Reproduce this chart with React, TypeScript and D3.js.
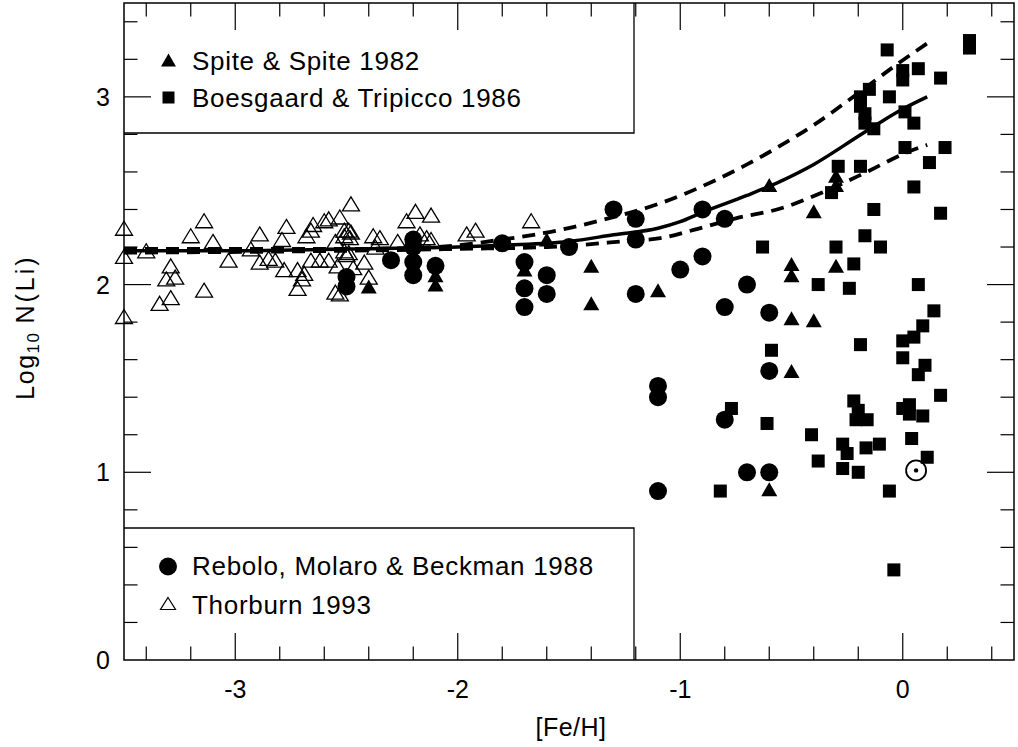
import React from "react";
import * as d3 from "d3";

// ---- data ----
const xTickValues = [-3, -2, -1, 0];
const yTickValues = [0, 1, 2, 3];
const xTickLabels = ["-3", "-2", "-1", "0"];
const yTickLabels = ["0", "1", "2", "3"];

const legendTop = ["Spite & Spite 1982", "Boesgaard & Tripicco 1986"];
const legendBottom = ["Rebolo, Molaro & Beckman 1988", "Thorburn 1993"];

// Spite & Spite 1982 (filled triangles)
const spite1982: [number, number][] = [
  [-2.4, 1.99], [-2.1, 2.05], [-2.1, 2.0], [-1.7, 2.08], [-1.6, 2.24],
  [-1.4, 2.1], [-1.4, 1.9], [-1.1, 1.97], [-0.6, 2.53], [-0.6, 0.91],
  [-0.5, 2.11], [-0.5, 2.05], [-0.5, 1.82], [-0.5, 1.54], [-0.4, 2.39],
  [-0.4, 1.81], [-0.3, 2.58], [-0.3, 2.53], [-0.3, 2.1],
];

// Boesgaard & Tripicco 1986 (filled squares)
const boesgaard1986: [number, number][] = [
  [-0.82, 0.9], [-0.77, 1.34], [-0.63, 2.2], [-0.61, 1.26], [-0.59, 1.65],
  [-0.41, 1.2], [-0.38, 2.0], [-0.38, 1.06], [-0.32, 2.49], [-0.29, 2.63],
  [-0.3, 2.2], [-0.27, 1.15], [-0.25, 1.1], [-0.27, 1.02], [-0.24, 1.98],
  [-0.22, 2.11], [-0.22, 1.38], [-0.2, 1.33], [-0.21, 1.28], [-0.16, 1.28],
  [-0.2, 1.0], [-0.19, 1.68], [-0.19, 2.63], [-0.19, 3.0], [-0.19, 2.95],
  [-0.17, 2.91], [-0.17, 2.86], [-0.15, 3.04], [-0.13, 2.83], [-0.13, 2.4],
  [-0.17, 2.26], [-0.165, 1.13], [-0.1, 2.2], [-0.105, 1.15], [-0.07, 3.25],
  [-0.06, 3.0], [-0.06, 0.9], [-0.04, 0.48], [0.0, 3.14], [0.0, 3.09],
  [0.01, 2.92], [0.01, 2.73], [0.0, 1.7], [0.0, 1.61], [0.0, 1.34],
  [0.03, 1.36], [0.03, 1.31], [0.04, 1.18], [0.05, 2.86], [0.05, 2.52],
  [0.05, 1.72], [0.07, 3.15], [0.07, 2.0], [0.07, 1.52], [0.09, 1.78],
  [0.09, 1.3], [0.1, 1.57], [0.11, 1.08], [0.12, 2.65], [0.14, 1.86],
  [0.17, 3.1], [0.17, 2.38], [0.17, 1.41], [0.19, 2.73], [0.3, 3.3], [0.3, 3.26],
];

// Rebolo, Molaro & Beckman 1988 (filled circles)
const rebolo1988: [number, number][] = [
  [-2.5, 2.04], [-2.5, 1.99], [-2.3, 2.13], [-2.2, 2.24], [-2.2, 2.2],
  [-2.2, 2.12], [-2.2, 2.05], [-2.1, 2.1], [-1.8, 2.22], [-1.7, 2.12],
  [-1.7, 1.98], [-1.7, 1.88], [-1.6, 2.05], [-1.6, 1.95], [-1.5, 2.2],
  [-1.3, 2.4], [-1.2, 2.35], [-1.2, 2.24], [-1.2, 1.95], [-1.1, 1.46],
  [-1.1, 1.4], [-1.1, 0.9], [-1.0, 2.08], [-0.9, 2.4], [-0.9, 2.15],
  [-0.8, 2.35], [-0.8, 1.88], [-0.8, 1.28], [-0.7, 2.0], [-0.7, 1.0],
  [-0.6, 1.85], [-0.6, 1.54], [-0.6, 1.0],
];

// Thorburn 1993 (open triangles)
const thorburn1993: [number, number][] = [
  [-3.5, 2.3], [-3.5, 2.15], [-3.5, 1.83], [-3.4, 2.18], [-3.34, 1.9],
  [-3.29, 2.1], [-3.29, 1.93], [-3.27, 2.04], [-3.31, 2.03], [-3.2, 2.26],
  [-3.14, 2.34], [-3.14, 1.97], [-3.1, 2.23], [-3.03, 2.13], [-2.93, 2.19],
  [-2.89, 2.27], [-2.89, 2.12], [-2.85, 2.14], [-2.82, 2.13], [-2.79, 2.24],
  [-2.78, 2.08], [-2.77, 2.31], [-2.72, 2.08], [-2.72, 1.98], [-2.7, 2.03],
  [-2.69, 2.06], [-2.68, 2.26], [-2.66, 2.29], [-2.66, 2.13], [-2.65, 2.32],
  [-2.62, 2.13], [-2.6, 2.34], [-2.58, 2.35], [-2.58, 2.13], [-2.55, 2.23],
  [-2.55, 1.96], [-2.54, 2.1], [-2.53, 2.36], [-2.53, 1.95], [-2.51, 2.29],
  [-2.51, 2.26], [-2.51, 2.18], [-2.5, 2.16], [-2.49, 2.17], [-2.49, 2.29],
  [-2.485, 2.25], [-2.48, 2.43], [-2.48, 2.28], [-2.47, 2.09], [-2.42, 2.12],
  [-2.4, 2.04], [-2.38, 2.26], [-2.37, 2.2], [-2.35, 2.25], [-2.27, 2.23],
  [-2.23, 2.34], [-2.19, 2.39], [-2.17, 2.27], [-2.14, 2.25], [-2.12, 2.37],
  [-2.12, 2.24], [-1.96, 2.27], [-1.92, 2.29], [-1.67, 2.34],
];

// Sun
const sunPoint: [number, number] = [0.06, 1.01];

// Model curves
const modelMid: [number, number][] = [
  [-3.5, 2.18], [-3.0, 2.18], [-2.5, 2.19], [-2.0, 2.2], [-1.8, 2.21],
  [-1.5, 2.23], [-1.3, 2.265], [-1.1, 2.3], [-1.0, 2.335], [-0.9, 2.385],
  [-0.7, 2.475], [-0.55, 2.55], [-0.4, 2.64], [-0.2, 2.79], [-0.1, 2.865],
  [0.0, 2.935], [0.11, 3.0],
];
const modelUpper: [number, number][] = [
  [-3.5, 2.19], [-2.5, 2.19], [-2.1, 2.2], [-1.8, 2.24], [-1.54, 2.291],
  [-1.35, 2.344], [-1.09, 2.433], [-0.84, 2.557], [-0.7, 2.64], [-0.55, 2.74],
  [-0.4, 2.85], [-0.2, 3.02], [-0.03, 3.17], [0.11, 3.285],
];
const modelLower: [number, number][] = [
  [-3.5, 2.17], [-2.5, 2.18], [-2.0, 2.19], [-1.6, 2.2], [-1.45, 2.211],
  [-1.27, 2.229], [-1.09, 2.247], [-0.94, 2.291], [-0.75, 2.353], [-0.55, 2.405],
  [-0.37, 2.486], [-0.16, 2.601], [0.02, 2.705], [0.11, 2.744],
];

// ---- layout ----
const W = 1018;
const H = 747;
const L = 124, R = 1014, T = 3, B = 660;
const FONT = "'Liberation Sans', Arial, Helvetica, sans-serif";

export default function App() {
  const x = d3.scaleLinear().domain([-3.5, 0.5]).range([L, R]);
  const y = d3.scaleLinear().domain([0, 3.5]).range([B, T]);

  const line = d3
    .line<[number, number]>()
    .x((d) => x(d[0]))
    .y((d) => y(d[1]))
    .curve(d3.curveMonotoneX);

  const xMinor = d3.range(-34, 5, 2).map((v) => v / 10);
  const yMinor = d3.range(2, 35, 2).map((v) => v / 10);
  const isMajor = (v: number) => Math.abs(v - Math.round(v)) < 1e-6;

  const tri = (cx: number, cy: number, w: number, h: number) =>
    `M${cx},${cy - h / 2}L${cx + w / 2},${cy + h / 2}L${cx - w / 2},${cy + h / 2}Z`;

  const majorLen = 27;
  const minorLen = 13.5;
  const legendStyle = { letterSpacing: "0.7px" };

  return (
    <svg
      width={W}
      height={H}
      style={{ position: "absolute", left: 0, top: 0, background: "#fff" }}
      fontFamily={FONT}
    >
      <rect x={0} y={0} width={W} height={H} fill="#fff" />

      {/* open triangles */}
      {thorburn1993.map((d, i) => (
        <path key={"th" + i} d={tri(x(d[0]), y(d[1]), 17, 14)} fill="none" stroke="#000" strokeWidth={1.3} />
      ))}

      {/* model curves */}
      <path d={line(modelMid) || ""} fill="none" stroke="#000" strokeWidth={3.5} />
      <path d={line(modelUpper) || ""} fill="none" stroke="#000" strokeWidth={3.8} strokeDasharray="13 8" />
      <path d={line(modelLower) || ""} fill="none" stroke="#000" strokeWidth={3.8} strokeDasharray="13 8" />

      {/* circles */}
      {rebolo1988.map((d, i) => (
        <circle key={"rb" + i} cx={x(d[0])} cy={y(d[1])} r={9} fill="#000" />
      ))}
      {/* squares */}
      {boesgaard1986.map((d, i) => (
        <rect key={"bt" + i} x={x(d[0]) - 6.5} y={y(d[1]) - 6.5} width={13} height={13} fill="#000" />
      ))}
      {/* filled triangles */}
      {spite1982.map((d, i) => (
        <path key={"sp" + i} d={tri(x(d[0]), y(d[1]), 16, 14)} fill="#000" />
      ))}
      {/* sun */}
      <circle cx={x(sunPoint[0])} cy={y(sunPoint[1])} r={10} fill="none" stroke="#000" strokeWidth={1.8} />
      <circle cx={x(sunPoint[0])} cy={y(sunPoint[1])} r={2.2} fill="#000" />

      {/* ticks */}
      {xMinor.map((v) => {
        const len = isMajor(v) ? majorLen : minorLen;
        return (
          <g key={"xt" + v}>
            <line x1={x(v)} x2={x(v)} y1={B} y2={B - len} stroke="#000" strokeWidth={1.2} />
            <line x1={x(v)} x2={x(v)} y1={T} y2={T + len} stroke="#000" strokeWidth={1.2} />
          </g>
        );
      })}
      {yMinor.map((v) => {
        const len = isMajor(v) ? majorLen : minorLen;
        return (
          <g key={"yt" + v}>
            <line x1={L} x2={L + len} y1={y(v)} y2={y(v)} stroke="#000" strokeWidth={1.2} />
            <line x1={R} x2={R - len} y1={y(v)} y2={y(v)} stroke="#000" strokeWidth={1.2} />
          </g>
        );
      })}

      {/* frame */}
      <rect x={L} y={T} width={R - L} height={B - T} fill="none" stroke="#000" strokeWidth={1.5} />

      {/* tick labels */}
      {xTickValues.map((v, i) => (
        <text key={"xl" + v} x={x(v)} y={698} fontSize={25} textAnchor="middle" fill="#000">
          {xTickLabels[i]}
        </text>
      ))}
      {yTickValues.map((v, i) => (
        <text key={"yl" + v} x={110} y={y(v) + 9} fontSize={25} textAnchor="end" fill="#000">
          {yTickLabels[i]}
        </text>
      ))}

      {/* axis titles */}
      <text x={571} y={736} fontSize={25} textAnchor="middle" fill="#000" style={{ letterSpacing: "0.5px" }}>
        [Fe/H]
      </text>
      <text transform="translate(34,327) rotate(-90)" fontSize={25} textAnchor="middle" fill="#000" style={{ letterSpacing: "1.5px" }}>
        Log<tspan fontSize={17} dy={5}>10</tspan>
        <tspan dy={-5} dx={8} style={{ letterSpacing: "3px" }}>N(Li)</tspan>
      </text>

      {/* legend boxes */}
      <path d={`M${L},133H634V${T}`} fill="none" stroke="#000" strokeWidth={1.3} />
      <path d={`M${L},528H634V${B}`} fill="none" stroke="#000" strokeWidth={1.3} />

      {/* legend top */}
      <path d={tri(168.5, 60, 15, 13)} fill="#000" />
      <text x={192} y={70} fontSize={26} fill="#000" style={legendStyle}>{legendTop[0]}</text>
      <rect x={162.5} y={91.5} width={12} height={12} fill="#000" />
      <text x={192} y={107} fontSize={26} fill="#000" style={legendStyle}>{legendTop[1]}</text>

      {/* legend bottom */}
      <circle cx={168} cy={566.5} r={9} fill="#000" />
      <text x={192} y={575} fontSize={26} fill="#000" style={legendStyle}>{legendBottom[0]}</text>
      <path d={tri(168, 603.5, 15, 12)} fill="none" stroke="#000" strokeWidth={1.2} />
      <text x={192} y={614} fontSize={26} fill="#000" style={legendStyle}>{legendBottom[1]}</text>
    </svg>
  );
}
